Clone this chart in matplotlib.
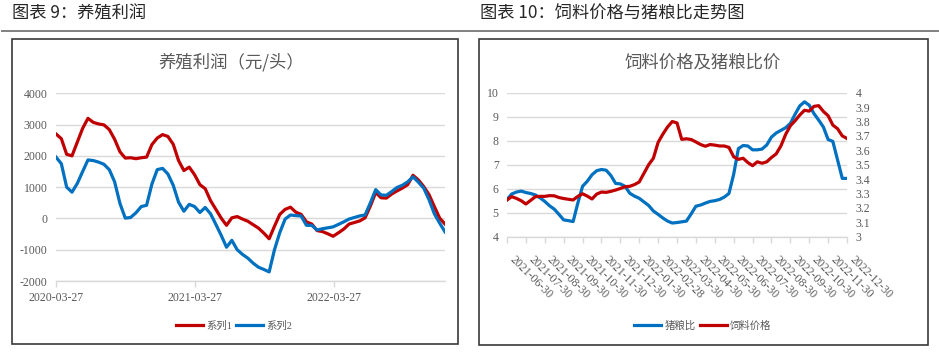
import matplotlib
matplotlib.use('Agg')
import matplotlib.pyplot as plt
from matplotlib.patches import Rectangle
from matplotlib.lines import Line2D
from matplotlib.font_manager import FontProperties
import numpy as np
import pandas as pd

plt.rcParams['axes.unicode_minus'] = False
plt.rcParams['font.family'] = ['Noto Sans CJK SC', 'DejaVu Sans']

# ---------------- Data: chart 9 (养殖利润) ----------------
profit_start = '2020-03-27'
profit_dates = pd.date_range(profit_start, periods=74, freq='14D')
series1 = [2700, 2550, 2050, 2000, 2440, 2880, 3200, 3070, 3020, 2990,
           2840, 2530, 2130, 1930, 1940, 1910, 1940, 1960, 2360, 2570,
           2680, 2620, 2370, 1850, 1530, 1640, 1400, 1080, 950, 570,
           290, 10, -220, 20, 60, -20, -90, -200, -310, -470,
           -650, -250, 130, 290, 360, 200, 130, -110, -180, -390,
           -420, -490, -570, -460, -340, -180, -130, -80, 20, 400,
           830, 660, 650, 780, 880, 970, 1080, 1380, 1230, 1020,
           760, 380, 10, -180]
series2 = [1960, 1750, 1000, 840, 1120, 1500, 1870, 1850, 1800, 1730,
           1560, 1170, 480, 10, 30, 180, 380, 420, 1100, 1560,
           1600, 1420, 1060, 520, 230, 450, 380, 190, 350, 150,
           -190, -540, -920, -700, -1000, -1150, -1270, -1430, -1560, -1630,
           -1710, -1000, -450, -20, 110, 90, 80, -220, -220, -370,
           -330, -300, -270, -190, -110, -20, 30, 80, 110, 500,
           920, 750, 740, 860, 990, 1060, 1170, 1330, 1160, 970,
           600, 150, -150, -430]
profit_ticks = ['2020-03-27', '2021-03-27', '2022-03-27']
profit_yticks = [-2000, -1000, 0, 1000, 2000, 3000, 4000]

# ---------------- Data: chart 10 (饲料价格及猪粮比价) ----------------
month_labels = ['2021-06-30', '2021-07-30', '2021-08-30', '2021-09-30', '2021-10-30',
                '2021-11-30', '2021-12-30', '2022-01-30', '2022-02-28', '2022-03-30',
                '2022-04-30', '2022-05-30', '2022-06-30', '2022-07-30', '2022-08-30',
                '2022-09-30', '2022-10-30', '2022-11-30', '2022-12-30']
month_pos = np.arange(0, 18.01, 0.25)   # weekly-ish sampling in month units
hog_grain_ratio = [5.55, 5.78, 5.86, 5.9, 5.84, 5.8, 5.74, 5.62, 5.47, 5.29,
                   5.15, 4.93, 4.7, 4.67, 4.63, 5.4, 6.1, 6.31, 6.58, 6.75,
                   6.8, 6.77, 6.55, 6.22, 6.2, 6.1, 5.81, 5.69, 5.6, 5.45,
                   5.3, 5.07, 4.93, 4.78, 4.65, 4.57, 4.59, 4.62, 4.65, 4.95,
                   5.27, 5.32, 5.4, 5.47, 5.5, 5.55, 5.65, 5.8, 6.6, 7.67,
                   7.8, 7.78, 7.62, 7.62, 7.65, 7.82, 8.15, 8.32, 8.43, 8.54,
                   8.72, 9.1, 9.45, 9.62, 9.48, 9.13, 8.86, 8.57, 8.05, 7.97,
                   7.2, 6.43, 6.43]
feed_price = [3.255, 3.278, 3.266, 3.25, 3.227, 3.252, 3.278, 3.28, 3.28, 3.285,
              3.284, 3.272, 3.265, 3.26, 3.255, 3.28, 3.298, 3.282, 3.262, 3.296,
              3.31, 3.308, 3.315, 3.324, 3.335, 3.347, 3.35, 3.362, 3.38, 3.44,
              3.5, 3.545, 3.655, 3.712, 3.762, 3.8, 3.79, 3.676, 3.68, 3.675,
              3.658, 3.64, 3.628, 3.64, 3.636, 3.63, 3.63, 3.62, 3.555, 3.537,
              3.545, 3.515, 3.493, 3.52, 3.51, 3.52, 3.55, 3.575, 3.63, 3.71,
              3.77, 3.805, 3.845, 3.878, 3.872, 3.905, 3.91, 3.87, 3.84, 3.775,
              3.75, 3.7, 3.682]
ratio_yticks = [4, 5, 6, 7, 8, 9, 10]
price_yticks = [3.0, 3.1, 3.2, 3.3, 3.4, 3.5, 3.6, 3.7, 3.8, 3.9, 4.0]

# ---------------- Styling ----------------
W, H = 939, 353
RED = '#C00000'
BLUE = '#0070C0'
GRID = '#D9D9D9'
TXT = '#595959'
LW = 2.3
tick_font = FontProperties(family=['Liberation Serif'], size=8.5)
leg_font = FontProperties(family=['Liberation Serif', 'Noto Sans CJK SC'], size=7.5)

fig = plt.figure(figsize=(W / 100, H / 100), dpi=100)
fig.patch.set_facecolor('white')


def px_axes(l, t, r, b):
    return fig.add_axes([l / W, 1 - b / H, (r - l) / W, (b - t) / H])


def fy(y):
    return 1 - y / H


# headers
fig.text(12.5 / W, fy(13.5), '图表 9：养殖利润', fontsize=12.4, color='#262626',
         ha='left', va='center')
fig.text(480 / W, fy(13.5), '图表 10：饲料价格与猪粮比走势图', fontsize=12.4, color='#262626',
         ha='left', va='center')
fig.add_artist(Line2D([2 / W, 938 / W], [fy(30.7), fy(30.7)], color='#808080', lw=1.4))

# frames
for (l, t, r, b) in [(11.7, 39.3, 458.3, 344.3), (479.3, 39.3, 927.7, 345)]:
    fig.add_artist(Rectangle((l / W, fy(b)), (r - l) / W, (b - t) / H,
                             transform=fig.transFigure, fill=False,
                             edgecolor='#3a3a3a', lw=1.2))

# chart titles
fig.text(231 / W, fy(62), '养殖利润（元/头）', fontsize=12.5, color=TXT, ha='center', va='center')
fig.text(703 / W, fy(62), '饲料价格及猪粮比价', fontsize=12.5, color=TXT, ha='center', va='center')

# ---------------- Left chart ----------------
ax1 = px_axes(56, 93.3, 445, 281)
l1, = ax1.plot(profit_dates, series1, color=RED, lw=LW, solid_joinstyle='round')
l2, = ax1.plot(profit_dates, series2, color=BLUE, lw=LW, solid_joinstyle='round')
ax1.set_ylim(-2000, 4000)
ax1.set_yticks(profit_yticks)
ax1.set_yticklabels([str(v) for v in profit_yticks])
ax1.set_xlim(profit_dates[0], profit_dates[-1])
ax1.set_xticks(pd.to_datetime(profit_ticks))
ax1.set_xticklabels(profit_ticks)
ax1.grid(axis='y', color=GRID, lw=1)
ax1.set_axisbelow(True)
for s in ['top', 'right', 'left']:
    ax1.spines[s].set_visible(False)
ax1.spines['bottom'].set_color(GRID)
ax1.spines['bottom'].set_linewidth(1)
ax1.tick_params(axis='y', length=0, pad=6, labelcolor=TXT)
ax1.tick_params(axis='x', length=4, color=GRID, width=1, pad=4, labelcolor=TXT)
for lab in ax1.get_xticklabels() + ax1.get_yticklabels():
    lab.set_fontproperties(tick_font)

fig.legend([l1, l2], ['系列1', '系列2'], loc='center', bbox_to_anchor=(234 / W, fy(326)),
           ncol=2, frameon=False, prop=leg_font, labelcolor=TXT,
           handlelength=2.6, handletextpad=0.3, columnspacing=0.4)

# ---------------- Right chart ----------------
ax2 = px_axes(507, 92.7, 847, 236.7)
r1, = ax2.plot(month_pos, hog_grain_ratio, color=BLUE, lw=LW, solid_joinstyle='round')
ax2.set_ylim(4, 10)
ax2.set_yticks(ratio_yticks)
ax2.set_yticklabels([str(v) for v in ratio_yticks])
ax2.set_xlim(0, 18)
ax2.set_xticks(range(len(month_labels)))
ax2.set_xticklabels(month_labels, rotation=-45, ha='left', va='top')
ax2.grid(axis='y', color=GRID, lw=1)
ax2.set_axisbelow(True)
for s in ['top', 'right', 'left']:
    ax2.spines[s].set_visible(False)
ax2.spines['bottom'].set_color(GRID)
ax2.spines['bottom'].set_linewidth(1)
ax2.tick_params(axis='y', length=0, pad=6, labelcolor=TXT)
ax2.tick_params(axis='x', length=4, color=GRID, width=1, pad=8, labelcolor=TXT)
for lab in ax2.get_xticklabels() + ax2.get_yticklabels():
    lab.set_fontproperties(tick_font)

ax3 = ax2.twinx()
r2, = ax3.plot(month_pos, feed_price, color=RED, lw=LW, solid_joinstyle='round')
ax3.set_ylim(3, 4)
ax3.set_yticks(price_yticks)
ax3.set_yticklabels([('%.1f' % v).rstrip('0').rstrip('.') for v in price_yticks])
for s in ['top', 'right', 'left', 'bottom']:
    ax3.spines[s].set_visible(False)
ax3.tick_params(axis='y', length=0, pad=6, labelcolor=TXT)
for lab in ax3.get_yticklabels():
    lab.set_fontproperties(tick_font)

fig.legend([r1, r2], ['猪粮比', '饲料价格'], loc='center', bbox_to_anchor=(703 / W, fy(326)),
           ncol=2, frameon=False, prop=leg_font, labelcolor=TXT,
           handlelength=2.6, handletextpad=0.3, columnspacing=0.4)

fig.savefig('out.png', dpi=100)
